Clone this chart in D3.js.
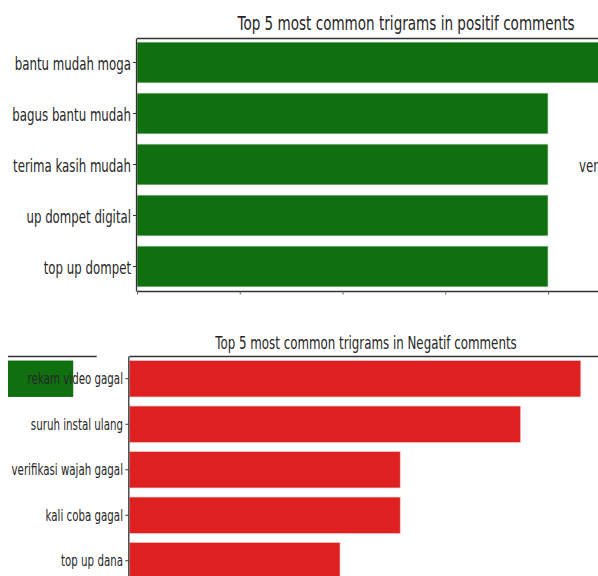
<!DOCTYPE html>
<html>
<head>
<meta charset="utf-8">
<script src="https://cdn.jsdelivr.net/npm/d3@7"></script>
<style>
  html, body { margin: 0; padding: 0; background: #fff; }
  svg { display: block; }
  text { font-family: "DejaVu Sans", sans-serif; fill: #262626; }
</style>
</head>
<body>
<svg id="chart" width="598" height="576"></svg>
<script>
// ---- data ----
const posTitle = "Top 5 most common trigrams in positif comments";
const posLabels = ["bantu mudah moga", "bagus bantu mudah", "terima kasih mudah", "up dompet digital", "top up dompet"];
const posValues = [5, 4, 4, 4, 4];
const posTicks = [0, 1, 2, 3, 4, 5];

const negTitle = "Top 5 most common trigrams in Negatif comments";
const negLabels = ["rekam video gagal", "suruh instal ulang", "verifikasi wajah gagal", "kali coba gagal", "top up dana"];
const negValues = [15, 13, 9, 9, 7];

// fragments of neighbouring panels visible in the crop
const ghostLabels = ["bantu mudah moga"];
const ghostValues = [5];
const sideLabel = ["verifikasi wajah gagal"];

// ---- style ----
const green = "#107010", red = "#df2020", spine = "#333";

const svg = d3.select("#chart");

function squashText(sel, x, y, str, size, anchor, sx) {
  const g = sel.append("g").attr("transform", `translate(${x},${y}) scale(${sx},1)`);
  g.append("text").attr("text-anchor", anchor).attr("font-size", size).text(str);
  return g;
}

// ================= top panel (positif) =================
const xTop = d3.scaleLinear().domain([0, 4]).range([137, 548]);
const yTop = d3.scaleBand().domain(posLabels).range([37, 292]).paddingInner(0.2).paddingOuter(0.1);

const gTop = svg.append("g");
gTop.selectAll("rect.bar").data(posLabels).join("rect")
  .attr("class", "bar")
  .attr("x", xTop(0))
  .attr("y", d => yTop(d))
  .attr("width", (d, i) => xTop(posValues[i]) - xTop(0))
  .attr("height", yTop.bandwidth())
  .attr("fill", green)
  .attr("stroke", "#cfe0cf").attr("stroke-width", 0.6);

// spines
gTop.append("line").attr("x1", xTop(0)).attr("x2", 598).attr("y1", 38.5).attr("y2", 38.5).attr("stroke", spine).attr("stroke-width", 1.3);
gTop.append("line").attr("x1", xTop(0)).attr("x2", 598).attr("y1", 291.5).attr("y2", 291.5).attr("stroke", spine).attr("stroke-width", 1.3);
gTop.append("line").attr("x1", xTop(0) - 0.5).attr("x2", xTop(0) - 0.5).attr("y1", 38.5).attr("y2", 291.5).attr("stroke", spine).attr("stroke-width", 1.3);

// x ticks (no labels visible)
const xAxTop = gTop.append("g").attr("transform", "translate(0,291.5)")
  .call(d3.axisBottom(xTop).tickValues(posTicks).tickSize(3).tickFormat(""));
xAxTop.select(".domain").remove();
xAxTop.selectAll("line").attr("stroke", "#666");

// y ticks + labels
const yAxTop = gTop.append("g").attr("transform", `translate(${xTop(0) - 0.5},0)`)
  .call(d3.axisLeft(yTop).tickSize(3.5).tickFormat(""));
yAxTop.select(".domain").remove();
yAxTop.selectAll("line").attr("stroke", spine);
posLabels.forEach(l => squashText(gTop, 131, yTop(l) + yTop.bandwidth() / 2 + 7, l, 18, "end", 0.655));

// title
squashText(gTop, 406, 29.5, posTitle, 19.5, "middle", 0.695);

// neighbouring panel label fragment (cut by the right edge, as in the source crop)
squashText(gTop, 579, yTop(posLabels[2]) + yTop.bandwidth() / 2 + 7, sideLabel[0], 18, "start", 0.655);

// ================= bottom panel (negatif) =================
const xBot = d3.scaleLinear().domain([0, 15]).range([129.3, 580.8]);
const yBot = d3.scaleBand().domain(negLabels).range([356, 583.5]).paddingInner(0.2).paddingOuter(0.1);

const gBot = svg.append("g");

// ghost fragment of another panel
const xGhost = d3.scaleLinear().domain([0, 6.8]).range([8, 96.7]);
gBot.append("line").attr("x1", xGhost(0)).attr("x2", xGhost(6.8)).attr("y1", 356.5).attr("y2", 356.5).attr("stroke", spine).attr("stroke-width", 1.3);
gBot.selectAll("rect.ghost").data(ghostLabels).join("rect")
  .attr("class", "ghost")
  .attr("x", xGhost(0))
  .attr("y", yBot(negLabels[0]))
  .attr("width", (d, i) => xGhost(ghostValues[i]) - xGhost(0))
  .attr("height", yBot.bandwidth())
  .attr("fill", green);

gBot.selectAll("rect.bar").data(negLabels).join("rect")
  .attr("class", "bar")
  .attr("x", xBot(0))
  .attr("y", d => yBot(d))
  .attr("width", (d, i) => xBot(negValues[i]) - xBot(0))
  .attr("height", yBot.bandwidth())
  .attr("fill", red)
  .attr("stroke", "#f4c8c8").attr("stroke-width", 0.6);

gBot.append("line").attr("x1", xBot(0)).attr("x2", 598).attr("y1", 356.5).attr("y2", 356.5).attr("stroke", spine).attr("stroke-width", 1.3);
gBot.append("line").attr("x1", xBot(0) - 0.5).attr("x2", xBot(0) - 0.5).attr("y1", 356.5).attr("y2", 576).attr("stroke", spine).attr("stroke-width", 1.3);

const yAxBot = gBot.append("g").attr("transform", `translate(${xBot(0) - 0.5},0)`)
  .call(d3.axisLeft(yBot).tickSize(3.5).tickFormat(""));
yAxBot.select(".domain").remove();
yAxBot.selectAll("line").attr("stroke", spine);
negLabels.forEach(l => squashText(gBot, 123, yBot(l) + yBot.bandwidth() / 2 + 5.5, l, 15, "end", 0.685));

squashText(gBot, 366, 348.5, negTitle, 17.5, "middle", 0.677);
</script>
</body>
</html>
